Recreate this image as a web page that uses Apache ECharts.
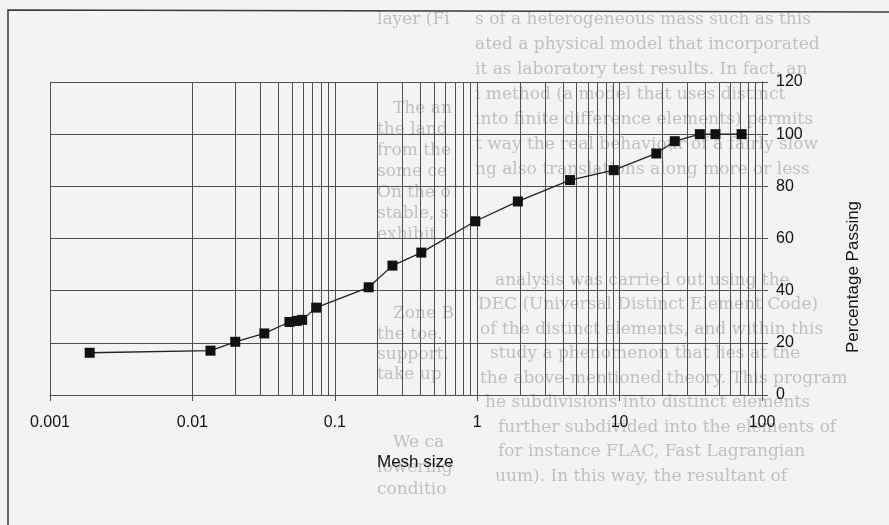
<!DOCTYPE html>
<html>
<head>
<meta charset="utf-8">
<script src="https://cdn.jsdelivr.net/npm/echarts@6/dist/echarts.min.js"></script>
<style>
html,body{margin:0;padding:0;background:#f3f3f3;}
#chart{width:889px;height:525px;}
</style>
</head>
<body>
<div id="chart"></div>
<script>
// ---- data ----
const meshSize = [0.0019, 0.0134, 0.02, 0.032, 0.048, 0.054, 0.059, 0.074, 0.173, 0.254, 0.405, 0.97, 1.93, 4.49, 9.1, 18.1, 24.4, 36.6, 47.1, 71.9];
const passing  = [16.2, 17.0, 20.4, 23.6, 28.0, 28.4, 28.8, 33.5, 41.3, 49.6, 54.6, 66.6, 74.2, 82.4, 86.2, 92.6, 97.3, 100, 100, 100];
const xTickLabels = ['0.001', '0.01', '0.1', '1', '10', '100'];
const yTickLabels = ['0', '20', '40', '60', '80', '100', '120'];
const decades = [0.001, 0.01, 0.1, 1, 10];
const minorSteps = [2, 3, 4, 5, 6, 7, 8, 9];
const xTitle = 'Mesh size';
const yTitle = 'Percentage Passing';

// faint text showing through the scanned page
const bleedLeft = [
  'layer (Fig. 6): dᵣ=dₖ+dₚ',
  'The analysis carried out with UDEC',
  'the landslide into two distinct zones (F',
  'from the field data. Zone B (with a me',
  'some centimetres a year displacement show',
  'On the other hand, Zone A can be cons',
  'stable, since it is resting over the Zon',
  'exhibit any other displacement.',
  'Zone B can be stabilised with some s',
  'the toe. If the landslide is left in its prese',
  'support, the area of instability is destined',
  'take up the entire road (Fig. 8).',
  'We can observe also that the anal',
  'lowering of the water table by 0.5 m inc',
  'conditions significantly. This points ou'
];
const bleedRight = [
  's of a heterogeneous mass such as this',
  'ated a physical model that incorporated',
  'it as laboratory test results. In fact, an',
  'i method (a model that uses distinct',
  'into finite difference elements) permits',
  't way the real behaviour of a fairly slow',
  'ng also translations along more or less',
  'analysis was carried out using the',
  'DEC (Universal Distinct Element Code)',
  'of the distinct elements, and within this',
  'study a phenomenon that lies at the',
  'the above-mentioned theory. This program',
  'he subdivisions into distinct elements',
  'further subdivided into the elements of',
  'for instance FLAC, Fast Lagrangian',
  'uum). In this way, the resultant of'
];

// layout (positions only)
const leftPos = [[377,20],[393,109],[377,130],[377,151],[377,172],[377,193],[377,214],[377,235],[393,314],[377,335],[377,355],[377,375],[393,443],[377,468],[377,490]];
const rightPos = [[475,20],[475,45],[475,70],[475,95],[475,120],[475,145],[475,170],[495,281],[478,305],[480,330],[490,354],[480,379],[485,403],[498,428],[498,452],[495,477]];

const chart = echarts.init(document.getElementById('chart'), null, {renderer: 'canvas'});

const seriesData = meshSize.map((v, i) => [v, passing[i]]);
const minorLines = [];
decades.forEach(d => minorSteps.forEach(m => minorLines.push({xAxis: +(d * m).toPrecision(6)})));

const gridColor = '#4e4e4e';
const font = '"Liberation Sans", Arial, sans-serif';

const graphics = [];
bleedLeft.forEach((t, i) => {
  graphics.push({
    type: 'text', z: -10, silent: true,
    style: {
      text: t, x: leftPos[i][0], y: leftPos[i][1], verticalAlign: 'middle',
      width: 455 - leftPos[i][0], overflow: 'truncate', ellipsis: '',
      font: '17px "DejaVu Serif", serif', fill: '#c0c0c0'
    }
  });
});
bleedRight.forEach((t, i) => {
  graphics.push({
    type: 'text', z: -10, silent: true,
    style: {
      text: t, x: rightPos[i][0], y: rightPos[i][1], verticalAlign: 'middle',
      font: '17px "DejaVu Serif", serif', fill: '#c0c0c0'
    }
  });
});
graphics.push({
  type: 'polyline', silent: true, z: 5,
  shape: {points: [[8, 525], [8, 10], [889, 12]]},
  style: {stroke: '#3a3a3a', lineWidth: 1.5, fill: null}
});
graphics.push({
  type: 'text', silent: true, z: 5,
  style: {text: xTitle, x: 377, y: 462, verticalAlign: 'middle', font: '17px ' + font, fill: '#111'}
});
graphics.push({
  type: 'text', silent: true, z: 5, x: 853, y: 277, rotation: Math.PI / 2,
  style: {text: yTitle, x: 0, y: 0, align: 'center', verticalAlign: 'middle', font: '17px ' + font, fill: '#111'}
});

chart.setOption({
  backgroundColor: '#f3f3f3',
  animation: false,
  grid: {left: 50, right: 127, top: 82, bottom: 130, containLabel: false},
  xAxis: {
    type: 'log', logBase: 10, min: 0.001, max: 100,
    axisLine: {show: true, lineStyle: {color: gridColor, width: 1}},
    axisTick: {show: true, length: 6, lineStyle: {color: gridColor}},
    axisLabel: {
      margin: 20, fontSize: 16, fontFamily: font, color: '#111',
      formatter: (v) => {
        const k = Math.round(Math.log10(v)) + 3;
        return xTickLabels[k] !== undefined ? xTickLabels[k] : '';
      }
    },
    splitLine: {show: true, lineStyle: {color: gridColor, width: 1}},
    minorTick: {show: false},
    minorSplitLine: {show: false}
  },
  yAxis: {
    type: 'value', position: 'right', min: 0, max: 120, interval: 20,
    axisLine: {show: true, lineStyle: {color: gridColor, width: 1}},
    axisTick: {show: true, length: 6, lineStyle: {color: gridColor}},
    axisLabel: {
      margin: 14, fontSize: 16, fontFamily: font, color: '#111',
      formatter: (v) => yTickLabels[Math.round(v / 20)]
    },
    splitLine: {show: true, lineStyle: {color: gridColor, width: 1}}
  },
  graphic: graphics,
  series: [{
    type: 'line',
    data: seriesData,
    symbol: 'rect', symbolSize: 10,
    itemStyle: {color: '#111'},
    lineStyle: {color: '#222', width: 1.3},
    z: 10,
    markLine: {
      silent: true, symbol: 'none', animation: false,
      label: {show: false},
      lineStyle: {color: gridColor, width: 1, type: 'solid'},
      data: minorLines
    }
  }]
});
</script>
</body>
</html>
